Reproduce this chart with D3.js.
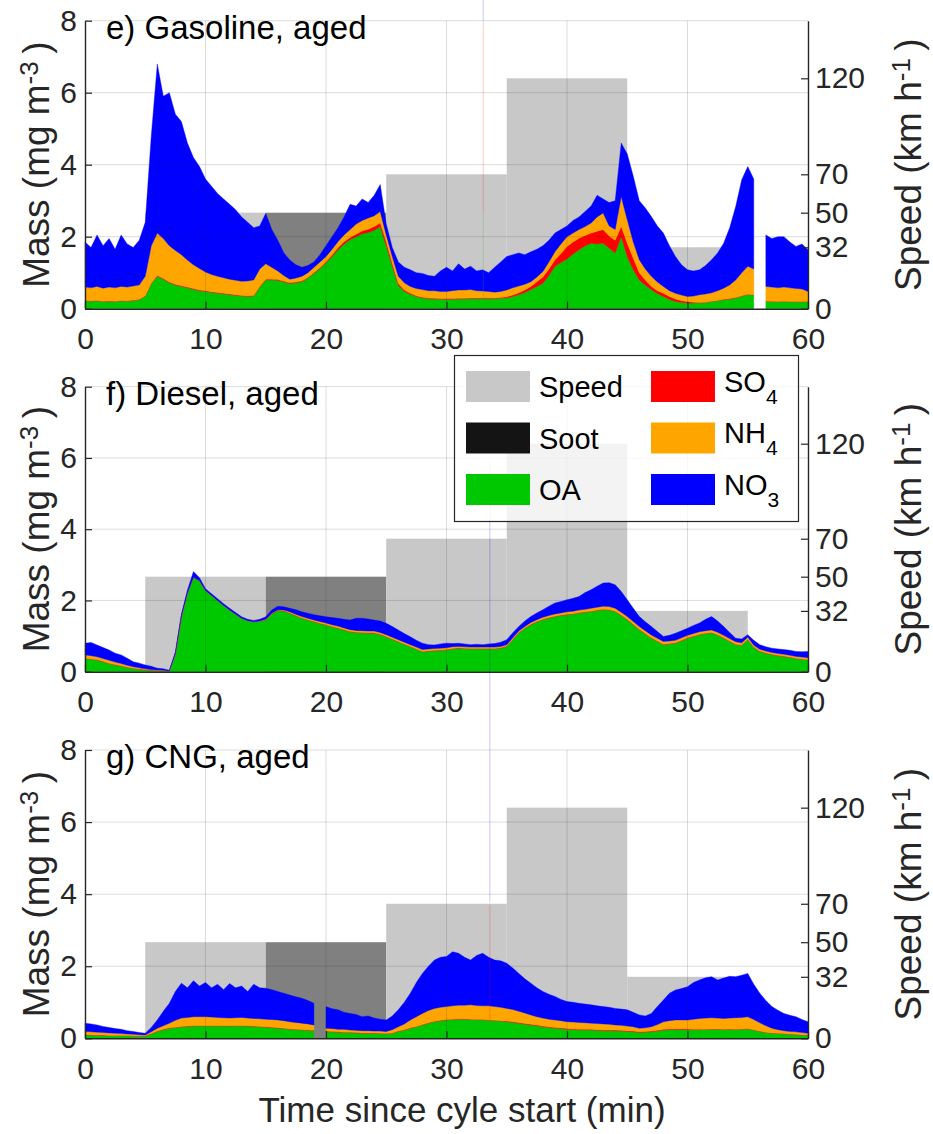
<!DOCTYPE html>
<html>
<head>
<meta charset="utf-8">
<script src="https://cdn.jsdelivr.net/npm/d3@7"></script>
<style>
  html, body { margin: 0; padding: 0; background: #fff; }
  svg { display: block; font-family: "Liberation Sans", Arial, Helvetica, sans-serif; }
</style>
</head>
<body>
<svg id="chart" width="933" height="1134"></svg>
<script>
// ---------------------------------------------------------------
// Data: aged aerosol composition (mg m-3) every 0.5 min, 0..60 min
// null marks a missing sample
// ---------------------------------------------------------------
const minutes = d3.range(0, 60.25, 0.5);

// e) Gasoline
const gasolineOA = [
  0.22,0.21,0.22,0.20,0.21,0.20,0.22,0.21,0.23,0.25,
  0.35,0.70,0.90,0.82,0.72,0.66,0.62,0.58,0.54,0.50,
  0.48,0.45,0.43,0.41,0.39,0.37,0.35,0.34,0.35,0.60,
  0.80,0.80,0.79,0.74,0.70,0.72,0.75,0.85,0.98,1.12,
  1.27,1.45,1.64,1.80,1.92,2.00,2.08,2.12,2.18,2.28,
  1.75,1.18,0.65,0.48,0.40,0.34,0.30,0.28,0.27,0.26,
  0.26,0.26,0.27,0.27,0.28,0.28,0.28,0.28,0.28,0.29,
  0.30,0.34,0.39,0.45,0.53,0.62,0.71,0.92,1.18,1.28,
  1.38,1.52,1.64,1.74,1.82,1.80,1.82,1.68,1.55,2.00,
  1.45,1.08,0.80,0.65,0.53,0.42,0.34,0.26,0.20,0.17,
  0.16,0.16,0.16,0.17,0.20,0.22,0.25,0.27,0.30,0.35,
  0.39,0.38,null,0.20,0.20,0.19,0.20,0.19,0.19,0.19,
  0.20];
const gasolineSO4 = [
  0.01,0.01,0.01,0.01,0.01,0.01,0.01,0.01,0.01,0.01,
  0.01,0.01,0.02,0.02,0.02,0.02,0.02,0.02,0.02,0.02,
  0.02,0.02,0.02,0.02,0.02,0.02,0.02,0.02,0.02,0.02,
  0.02,0.02,0.02,0.02,0.02,0.02,0.02,0.02,0.02,0.02,
  0.03,0.04,0.05,0.06,0.06,0.07,0.08,0.09,0.10,0.10,
  0.11,0.08,0.05,0.04,0.03,0.02,0.02,0.02,0.02,0.02,
  0.02,0.02,0.02,0.02,0.02,0.02,0.02,0.02,0.02,0.02,
  0.03,0.04,0.05,0.07,0.09,0.13,0.17,0.18,0.18,0.25,
  0.35,0.33,0.32,0.29,0.28,0.35,0.38,0.34,0.35,0.29,
  0.37,0.32,0.20,0.15,0.09,0.08,0.09,0.08,0.07,0.05,
  0.04,0.02,0.01,0.01,0.01,0.01,0.01,0.01,0.01,0.01,
  0.01,0.01,null,0.01,0.01,0.01,0.01,0.01,0.01,0.01,
  0.01];
const gasolineNH4 = [
  0.37,0.36,0.39,0.36,0.38,0.37,0.39,0.38,0.39,0.40,
  0.54,1.04,1.18,1.11,1.01,0.94,0.86,0.75,0.66,0.60,
  0.52,0.48,0.45,0.43,0.41,0.40,0.39,0.41,0.43,0.48,
  0.43,0.33,0.24,0.16,0.10,0.11,0.13,0.13,0.15,0.16,
  0.15,0.16,0.18,0.19,0.22,0.28,0.29,0.31,0.30,0.32,
  0.19,0.19,0.20,0.20,0.19,0.20,0.21,0.20,0.21,0.20,
  0.20,0.22,0.23,0.23,0.23,0.20,0.19,0.18,0.16,0.17,
  0.19,0.20,0.19,0.16,0.13,0.13,0.15,0.20,0.22,0.27,
  0.27,0.25,0.24,0.25,0.28,0.40,0.46,0.28,0.30,0.83,
  0.65,0.45,0.36,0.30,0.28,0.24,0.19,0.16,0.16,0.16,
  0.14,0.17,0.22,0.23,0.23,0.27,0.31,0.38,0.49,0.64,
  0.78,0.71,null,0.41,0.39,0.38,0.39,0.38,0.36,0.35,
  0.27];
const gasolineNO3 = [
  1.25,1.12,1.43,1.18,1.35,1.07,1.43,1.20,1.07,1.24,
  1.50,3.05,4.70,3.95,4.25,3.78,3.70,3.25,2.98,2.83,
  2.58,2.45,2.30,2.19,2.08,1.96,1.79,1.63,1.45,1.20,
  1.40,1.05,0.85,0.63,0.53,0.37,0.25,0.20,0.15,0.20,
  0.30,0.35,0.38,0.50,0.70,0.50,0.60,0.43,0.57,0.75,
  0.30,0.25,0.40,0.43,0.46,0.44,0.45,0.42,0.40,0.57,
  0.67,0.55,0.73,0.58,0.65,0.55,0.59,0.52,0.69,0.82,
  0.93,0.92,0.92,0.82,0.83,0.77,0.72,0.60,0.52,0.40,
  0.30,0.35,0.35,0.42,0.47,0.60,0.39,0.65,0.80,1.48,
  1.83,1.83,1.64,1.70,1.66,1.56,1.48,1.25,1.02,0.84,
  0.74,0.70,0.69,0.79,0.92,1.05,1.25,1.59,2.04,2.58,
  2.77,2.50,null,1.43,1.35,1.42,1.40,1.27,1.17,1.25,
  1.16];

// f) Diesel
const dieselOA = [
  0.37,0.35,0.33,0.28,0.23,0.19,0.16,0.12,0.09,0.07,
  0.05,0.04,0.03,0.02,0.02,0.50,1.55,2.20,2.65,2.55,
  2.28,2.14,2.00,1.86,1.73,1.61,1.50,1.43,1.40,1.42,
  1.45,1.62,1.72,1.70,1.64,1.57,1.50,1.45,1.40,1.35,
  1.31,1.26,1.22,1.17,1.12,1.10,1.09,1.08,1.08,1.04,
  0.98,0.91,0.84,0.77,0.70,0.63,0.56,0.58,0.59,0.60,
  0.61,0.64,0.66,0.65,0.64,0.64,0.64,0.64,0.64,0.66,
  0.71,0.90,1.09,1.22,1.32,1.40,1.46,1.51,1.55,1.58,
  1.60,1.62,1.65,1.67,1.69,1.72,1.74,1.73,1.69,1.58,
  1.46,1.32,1.18,1.06,0.94,0.85,0.76,0.78,0.80,0.87,
  0.94,0.99,1.04,1.07,1.09,1.03,0.94,0.85,0.76,0.74,
  0.90,0.68,0.57,0.52,0.48,0.45,0.43,0.40,0.37,0.35,
  0.33];
const dieselSO4 = [
  0.01,0.01,0.01,0.01,0.01,0.01,0.01,0.01,0.01,0.01,
  0.01,0.01,0.01,0.01,0.00,0.00,0.00,0.00,0.00,0.00,
  0.00,0.00,0.00,0.00,0.00,0.00,0.00,0.00,0.00,0.00,
  0.01,0.01,0.01,0.01,0.01,0.01,0.01,0.01,0.01,0.01,
  0.01,0.01,0.01,0.01,0.01,0.01,0.01,0.01,0.01,0.01,
  0.01,0.01,0.01,0.01,0.01,0.01,0.01,0.01,0.01,0.01,
  0.01,0.01,0.01,0.01,0.01,0.01,0.01,0.01,0.01,0.01,
  0.01,0.01,0.01,0.01,0.01,0.01,0.01,0.01,0.01,0.01,
  0.01,0.01,0.01,0.01,0.01,0.01,0.01,0.01,0.01,0.01,
  0.01,0.01,0.01,0.01,0.01,0.01,0.01,0.01,0.01,0.01,
  0.01,0.01,0.01,0.01,0.01,0.01,0.01,0.01,0.01,0.01,
  0.01,0.01,0.01,0.01,0.01,0.01,0.01,0.01,0.01,0.01,
  0.01];
const dieselNH4 = [
  0.09,0.09,0.08,0.08,0.08,0.07,0.06,0.05,0.04,0.03,
  0.02,0.01,0.01,0.01,0.00,0.00,0.00,0.00,0.00,0.00,
  0.00,0.00,0.00,0.00,0.00,0.00,0.00,0.00,0.00,0.00,
  0.01,0.01,0.01,0.02,0.03,0.03,0.04,0.04,0.04,0.05,
  0.05,0.05,0.05,0.05,0.05,0.05,0.05,0.05,0.05,0.05,
  0.05,0.05,0.05,0.05,0.05,0.05,0.05,0.05,0.05,0.05,
  0.05,0.05,0.04,0.04,0.04,0.04,0.04,0.04,0.04,0.04,
  0.04,0.04,0.04,0.04,0.05,0.05,0.06,0.06,0.06,0.06,
  0.07,0.07,0.07,0.07,0.08,0.08,0.09,0.09,0.08,0.08,
  0.08,0.08,0.08,0.08,0.08,0.08,0.08,0.07,0.07,0.07,
  0.07,0.07,0.07,0.07,0.07,0.07,0.07,0.07,0.07,0.06,
  0.06,0.05,0.05,0.05,0.05,0.05,0.05,0.05,0.05,0.05,
  0.05];
const dieselNO3 = [
  0.33,0.37,0.33,0.31,0.29,0.25,0.24,0.20,0.14,0.13,
  0.11,0.09,0.05,0.04,0.02,0.05,0.06,0.09,0.16,0.09,
  0.05,0.05,0.05,0.05,0.05,0.05,0.04,0.04,0.04,0.05,
  0.07,0.09,0.10,0.09,0.10,0.13,0.13,0.14,0.15,0.16,
  0.17,0.20,0.22,0.24,0.27,0.34,0.35,0.34,0.31,0.32,
  0.32,0.30,0.27,0.24,0.22,0.19,0.18,0.12,0.10,0.12,
  0.13,0.09,0.09,0.08,0.07,0.08,0.07,0.09,0.10,0.12,
  0.14,0.14,0.13,0.15,0.17,0.19,0.21,0.26,0.31,0.32,
  0.34,0.36,0.38,0.47,0.52,0.59,0.65,0.67,0.66,0.58,
  0.47,0.37,0.28,0.25,0.24,0.19,0.14,0.16,0.20,0.20,
  0.20,0.23,0.25,0.32,0.38,0.31,0.25,0.17,0.10,0.11,
  0.07,0.14,0.13,0.12,0.12,0.13,0.13,0.14,0.14,0.15,
  0.18];

// g) CNG
const cngOA = [
  0.09,0.09,0.08,0.08,0.07,0.07,0.07,0.07,0.06,0.06,
  0.06,0.12,0.19,0.24,0.28,0.30,0.32,0.33,0.34,0.34,
  0.34,0.34,0.34,0.34,0.34,0.34,0.34,0.34,0.33,0.32,
  0.31,0.30,0.28,0.27,0.25,0.24,0.23,0.22,0.21,null,
  0.19,0.18,0.17,0.16,0.16,0.15,0.14,0.14,0.14,0.13,
  0.12,0.14,0.19,0.23,0.28,0.32,0.37,0.42,0.46,0.49,
  0.51,0.52,0.53,0.53,0.52,0.51,0.51,0.50,0.49,0.48,
  0.46,0.44,0.42,0.39,0.37,0.35,0.32,0.30,0.28,0.27,
  0.25,0.24,0.23,0.23,0.23,0.22,0.21,0.21,0.21,0.20,
  0.19,0.18,0.16,0.17,0.18,0.20,0.23,0.24,0.24,0.24,
  0.24,0.24,0.24,0.24,0.25,0.25,0.24,0.25,0.24,0.25,
  0.26,0.23,0.19,0.16,0.14,0.13,0.12,0.11,0.10,0.09,
  0.08];
const cngSO4 = [
  0.01,0.01,0.01,0.01,0.01,0.01,0.01,0.01,0.01,0.01,
  0.01,0.01,0.01,0.01,0.01,0.01,0.01,0.01,0.01,0.01,
  0.01,0.01,0.01,0.01,0.01,0.01,0.01,0.01,0.01,0.01,
  0.01,0.01,0.01,0.01,0.01,0.01,0.01,0.01,0.01,null,
  0.01,0.01,0.01,0.01,0.01,0.01,0.01,0.01,0.01,0.01,
  0.01,0.01,0.01,0.01,0.01,0.01,0.01,0.01,0.01,0.01,
  0.01,0.01,0.01,0.01,0.01,0.01,0.01,0.01,0.01,0.01,
  0.02,0.02,0.02,0.02,0.02,0.02,0.02,0.02,0.02,0.02,
  0.02,0.02,0.02,0.02,0.02,0.02,0.02,0.02,0.02,0.02,
  0.02,0.02,0.02,0.02,0.02,0.02,0.02,0.02,0.02,0.02,
  0.02,0.01,0.01,0.01,0.01,0.01,0.01,0.01,0.01,0.01,
  0.01,0.01,0.01,0.01,0.01,0.01,0.01,0.01,0.01,0.01,
  0.01];
const cngNH4 = [
  0.09,0.08,0.08,0.07,0.07,0.06,0.05,0.04,0.04,0.03,
  0.02,0.05,0.08,0.10,0.13,0.19,0.23,0.24,0.25,0.25,
  0.25,0.24,0.23,0.22,0.21,0.22,0.23,0.21,0.21,0.21,
  0.21,0.21,0.22,0.21,0.20,0.19,0.18,0.17,0.15,null,
  0.08,0.08,0.07,0.08,0.06,0.06,0.06,0.06,0.05,0.06,
  0.06,0.09,0.12,0.16,0.22,0.27,0.31,0.34,0.36,0.36,
  0.36,0.37,0.38,0.38,0.40,0.39,0.38,0.39,0.38,0.37,
  0.35,0.34,0.31,0.29,0.26,0.23,0.22,0.21,0.21,0.20,
  0.19,0.19,0.19,0.18,0.17,0.17,0.17,0.16,0.14,0.14,
  0.13,0.12,0.10,0.10,0.12,0.16,0.21,0.23,0.25,0.25,
  0.25,0.28,0.30,0.31,0.31,0.30,0.30,0.30,0.32,0.32,
  0.33,0.28,0.23,0.18,0.13,0.10,0.08,0.07,0.07,0.06,
  0.05];
const cngNO3 = [
  0.23,0.22,0.20,0.17,0.15,0.13,0.12,0.09,0.08,0.06,
  0.05,0.12,0.23,0.40,0.55,0.80,0.97,0.82,1.00,0.85,
  0.95,0.81,0.92,0.78,0.96,0.83,0.87,0.74,0.95,0.86,
  0.86,0.83,0.79,0.76,0.74,0.71,0.69,0.65,0.60,null,
  0.60,0.55,0.54,0.47,0.46,0.44,0.39,0.41,0.36,0.33,
  0.32,0.38,0.47,0.60,0.74,0.95,1.11,1.23,1.34,1.39,
  1.39,1.50,1.44,1.33,1.24,1.39,1.46,1.35,1.29,1.29,
  1.25,1.15,1.05,0.95,0.88,0.80,0.74,0.69,0.65,0.59,
  0.56,0.55,0.53,0.52,0.51,0.49,0.48,0.47,0.46,0.45,
  0.45,0.40,0.37,0.33,0.37,0.50,0.60,0.76,0.83,0.87,
  0.92,1.02,1.07,1.12,1.14,1.06,1.12,1.16,1.14,1.17,
  1.20,0.98,0.82,0.70,0.60,0.54,0.48,0.45,0.42,0.36,
  0.32];

// Single-sample spikes (mg m-3) that run off the axes
const spikeCycle = ["gasoline", "cng"];
const spikeTime  = [33.05, 33.6];
const spikeOA    = [2.66, 0.50];
const spikeSO4   = [5.30, 3.20];
const spikeNH4   = [0.04, 0.10];
const spikeNO3   = [1.00, 12.2];

// Driving cycle: speed (km h-1) held between phase boundaries (min)
const phaseBounds = [0, 5, 15, 25, 35, 45, 55, 60];
const phaseSpeed  = [0, 50, 50, 70, 120, 32, 0];

// Axis ticks
const timeTicks  = [0, 10, 20, 30, 40, 50, 60];
const massTicks  = [0, 2, 4, 6, 8];
const speedTicks = [0, 32, 50, 70, 120];

const species = ["OA", "SO4", "NH4", "NO3"];
const cycles = [
  { key: "gasoline", title: "e) Gasoline, aged",
    values: { OA: gasolineOA, SO4: gasolineSO4, NH4: gasolineNH4, NO3: gasolineNO3 } },
  { key: "diesel", title: "f) Diesel, aged",
    values: { OA: dieselOA, SO4: dieselSO4, NH4: dieselNH4, NO3: dieselNO3 } },
  { key: "cng", title: "g) CNG, aged",
    values: { OA: cngOA, SO4: cngSO4, NH4: cngNH4, NO3: cngNO3 } }
];

// ---------------------------------------------------------------
// Styling and layout
// ---------------------------------------------------------------
const colour = {
  OA: "#00c800", SO4: "#ff0000", NH4: "#ffa500", NO3: "#0000ff",
  Soot: "#141414", Speed: "#c8c8c8"
};
const speedLight = "#c8c8c8", speedDark = "#808080";
const sootPhase = 2;            // 15-25 min phase is shaded darker
const axisInk = "#262626";
const gridInk = "rgba(38,38,38,0.16)";

const plotLeft = 85, plotRight = 808;
const panelBox = [
  { top: 20.7,  bottom: 308.7 },
  { top: 386.7, bottom: 671.7 },
  { top: 750,   bottom: 1038.3 }
];

const svg = d3.select("#chart");

// soft edge for the densely sampled composition traces
svg.append("defs").append("filter")
  .attr("id", "soft")
  .attr("x", "-2%").attr("y", "-5%").attr("width", "104%").attr("height", "110%")
  .append("feGaussianBlur").attr("stdDeviation", 0.6);

const x = d3.scaleLinear().domain([0, 60]).range([plotLeft, plotRight]);

cycles.forEach((cyc, pi) => {
  const box = panelBox[pi];
  const y  = d3.scaleLinear().domain([0, 8]).range([box.bottom, box.top]);
  const yS = d3.scaleLinear().domain([0, 150]).range([box.bottom, box.top]);
  const g = svg.append("g").attr("class", "panel-" + cyc.key);

  // speed profile
  const phases = d3.pairs(phaseBounds).map((p, i) => ({ t0: p[0], t1: p[1], v: phaseSpeed[i], i }));
  g.append("g").selectAll("rect")
    .data(phases.filter(d => d.v > 0))
    .join("rect")
      .attr("x", d => x(d.t0))
      .attr("width", d => x(d.t1) - x(d.t0))
      .attr("y", d => yS(d.v))
      .attr("height", d => yS(0) - yS(d.v))
      .attr("fill", d => d.i === sootPhase ? speedDark : speedLight);

  // stacked composition
  const rows = minutes.map((t, i) => {
    const r = { t, gap: false };
    species.forEach(k => {
      const v = cyc.values[k][i];
      if (v === null) r.gap = true;
      r[k] = v === null ? 0 : v;
    });
    return r;
  });
  const layers = d3.stack().keys(species)(rows);
  const area = d3.area()
    .defined(d => !d.data.gap)
    .x(d => x(d.data.t))
    .y0(d => y(d[0]))
    .y1(d => y(d[1]));
  g.append("g").attr("filter", "url(#soft)").selectAll("path")
    .data(layers)
    .join("path")
      .attr("d", area)
      .attr("fill", d => colour[d.key])
      .attr("stroke", d => colour[d.key])
      .attr("stroke-width", 0.4);

  // spikes
  spikeCycle.forEach((c, si) => {
    if (c !== cyc.key) return;
    const parts = [spikeOA[si], spikeSO4[si], spikeNH4[si], spikeNO3[si]];
    let acc = 0;
    parts.forEach((v, k) => {
      g.append("line")
        .attr("x1", x(spikeTime[si])).attr("x2", x(spikeTime[si]))
        .attr("y1", y(acc)).attr("y2", y(acc + v))
        .attr("stroke", colour[species[k]])
        .attr("stroke-opacity", 0.22)
        .attr("stroke-width", 1);
      acc += v;
    });
  });

  // grid
  const grid = g.append("g").attr("stroke", gridInk).attr("stroke-width", 1);
  grid.selectAll("line.v").data(timeTicks.slice(1, -1)).join("line")
    .attr("class", "v")
    .attr("x1", d => x(d)).attr("x2", d => x(d))
    .attr("y1", box.top).attr("y2", box.bottom);
  grid.selectAll("line.h").data(massTicks.slice(1)).join("line")
    .attr("class", "h")
    .attr("x1", plotLeft).attr("x2", plotRight)
    .attr("y1", d => y(d)).attr("y2", d => y(d));

  // axes
  const styleAxis = sel => {
    sel.attr("font-family", null).attr("font-size", null);
    sel.selectAll("path.domain").attr("stroke", axisInk).attr("stroke-width", 1.4);
    sel.selectAll(".tick line").attr("stroke", axisInk).attr("stroke-width", 1.2);
    sel.selectAll(".tick text").attr("fill", axisInk).style("font-size", "30px");
  };
  g.append("g")
    .attr("transform", `translate(0,${box.bottom})`)
    .call(d3.axisBottom(x).tickValues(timeTicks).tickSizeInner(-7).tickSizeOuter(0).tickPadding(19))
    .call(styleAxis);
  g.append("g")
    .attr("transform", `translate(${plotLeft},0)`)
    .call(d3.axisLeft(y).tickValues(massTicks).tickSizeInner(-7).tickSizeOuter(0).tickPadding(8))
    .call(styleAxis);
  g.append("g")
    .attr("transform", `translate(${plotRight},0)`)
    .call(d3.axisRight(yS).tickValues(speedTicks).tickSizeInner(-7).tickSizeOuter(0).tickPadding(7))
    .call(styleAxis);

  // title
  g.append("text")
    .attr("x", 106).attr("y", box.top + 18.3)
    .attr("fill", "#000")
    .style("font-size", "33px")
    .text(cyc.title);

  // axis titles
  const midY = (box.top + box.bottom) / 2;
  const massLabel = g.append("text")
    .attr("transform", `translate(49,${midY}) rotate(-90)`)
    .attr("text-anchor", "middle")
    .attr("fill", axisInk)
    .style("font-size", "37px");
  massLabel.append("tspan").text("Mass (mg m");
  massLabel.append("tspan").attr("dy", "-0.42em").style("font-size", "26px").text("-3");
  massLabel.append("tspan").attr("dy", "0.3em").text("\u2009)");

  const speedLabel = g.append("text")
    .attr("transform", `translate(921,${midY}) rotate(-90)`)
    .attr("text-anchor", "middle")
    .attr("fill", axisInk)
    .style("font-size", "37px");
  speedLabel.append("tspan").text("Speed (km h");
  speedLabel.append("tspan").attr("dy", "-0.42em").style("font-size", "26px").text("-1");
  speedLabel.append("tspan").attr("dy", "0.3em").text("\u2009)");
});

// x-axis title
svg.append("text")
  .attr("x", 462).attr("y", 1122)
  .attr("text-anchor", "middle")
  .attr("fill", axisInk)
  .style("font-size", "35px")
  .text("Time since cyle start (min)");

// ---------------------------------------------------------------
// Legend
// ---------------------------------------------------------------
const legendItems = [
  { label: "Speed", sub: "",  fill: colour.Speed, col: 0, row: 0 },
  { label: "Soot",  sub: "",  fill: colour.Soot,  col: 0, row: 1 },
  { label: "OA",    sub: "",  fill: colour.OA,    col: 0, row: 2 },
  { label: "SO",    sub: "4", fill: colour.SO4,   col: 1, row: 0 },
  { label: "NH",    sub: "4", fill: colour.NH4,   col: 1, row: 1 },
  { label: "NO",    sub: "3", fill: colour.NO3,   col: 1, row: 2 }
];
const legend = svg.append("g").attr("class", "legend");
legend.append("rect")
  .attr("x", 454.5).attr("y", 355.5).attr("width", 344).attr("height", 166)
  .attr("fill", "rgba(255,255,255,0.78)")
  .attr("stroke", axisInk).attr("stroke-width", 1.2);
const colX = [466, 651], rowY = [386.5, 438, 489.5];
const entry = legend.selectAll("g.entry").data(legendItems).join("g").attr("class", "entry");
entry.append("rect")
  .attr("x", d => colX[d.col]).attr("y", d => rowY[d.row] - 15.5)
  .attr("width", 64).attr("height", 31)
  .attr("fill", d => d.fill);
const entryText = entry.append("text")
  .attr("x", d => colX[d.col] + 73)
  .attr("y", d => rowY[d.row] + (d.sub ? 5 : 10.5))
  .attr("fill", "#000")
  .style("font-size", "29px");
entryText.append("tspan").text(d => d.label);
entryText.filter(d => d.sub).append("tspan")
  .attr("dy", 12).style("font-size", "21px")
  .text(d => d.sub);
</script>
</body>
</html>
